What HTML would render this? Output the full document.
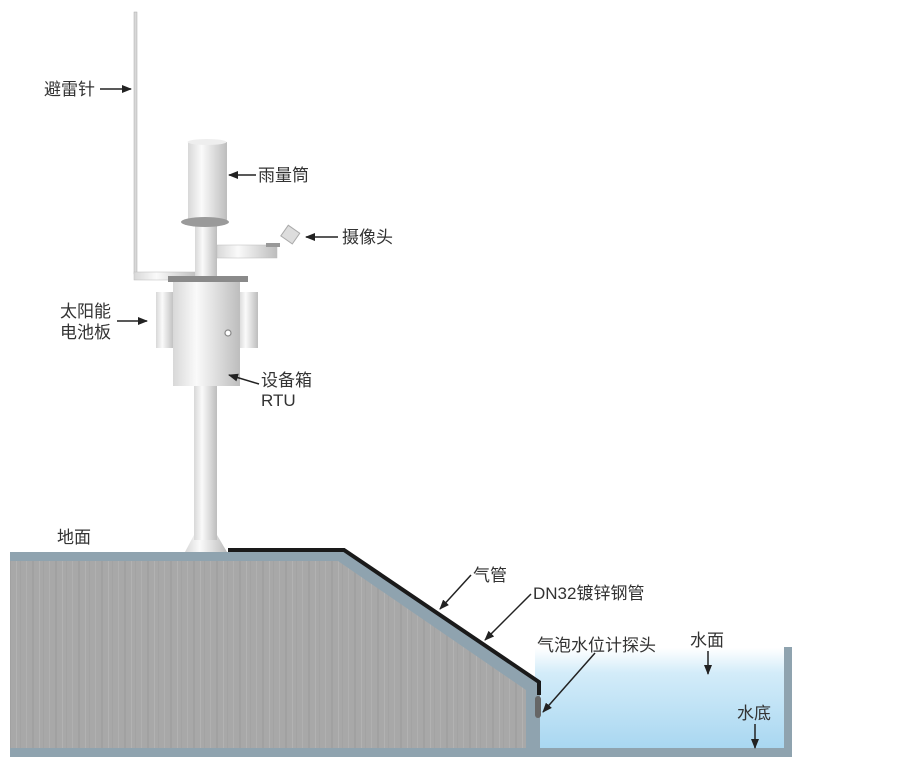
<!DOCTYPE html>
<html><head><meta charset="utf-8"><style>
html,body{margin:0;padding:0;background:#fff}
svg text{font-family:"Liberation Sans","Noto Sans CJK SC",sans-serif;font-size:17px;fill:#333}
</style></head><body>
<svg width="902" height="774" viewBox="0 0 902 774" xmlns="http://www.w3.org/2000/svg">
<defs>
<linearGradient id="cyl" x1="0" x2="1" y1="0" y2="0">
<stop offset="0" stop-color="#d8d8d8"/><stop offset="0.35" stop-color="#fafafa"/><stop offset="1" stop-color="#bdbdbd"/>
</linearGradient>
<linearGradient id="water" x1="0" x2="0" y1="0" y2="1">
<stop offset="0" stop-color="#ffffff"/><stop offset="0.25" stop-color="#d3ecf9"/><stop offset="1" stop-color="#a9d7f1"/>
</linearGradient>
<pattern id="conc" width="23" height="200" patternUnits="userSpaceOnUse">
<rect width="23" height="200" fill="#a8a8a8"/>
<rect x="3" width="1" height="200" fill="#b0b0b0"/>
<rect x="9" width="2" height="200" fill="#a1a1a1"/>
<rect x="16" width="1" height="200" fill="#b2b2b2"/>
<rect x="20" width="1" height="200" fill="#a3a3a3"/>
</pattern>
<marker id="ah" markerWidth="10" markerHeight="8" refX="9" refY="4" orient="auto" markerUnits="userSpaceOnUse">
<path d="M0,0 L10,4 L0,8 Z" fill="#222"/>
</marker>
</defs>
<rect x="535" y="648" width="249" height="100" fill="url(#water)"/>
<path d="M10,552 L345,552 L540,683 L540,748 L784,748 L784,647 L792,647 L792,757 L10,757 Z" fill="#8fa3af"/>
<path d="M10,561 L338,561 L526,690 L526,748 L10,748 Z" fill="url(#conc)"/>
<path d="M228,550 L344,550 L539,682 L539,695" fill="none" stroke="#1a1a1a" stroke-width="4"/>
<rect x="535" y="696" width="6" height="22" rx="3" fill="#666"/>
<rect x="134" y="12" width="3" height="262" fill="#d8d8d8" stroke="#aaa" stroke-width="0.5"/>
<rect x="134" y="272" width="64" height="8" fill="url(#cyl)" stroke="#bbb" stroke-width="0.5"/>
<path d="M185,552 L194,535 L217,535 L227,552 Z" fill="url(#cyl)"/>
<rect x="194" y="384" width="23" height="156" fill="url(#cyl)"/>
<rect x="195" y="225" width="22" height="54" fill="url(#cyl)"/>
<rect x="188" y="142" width="39" height="78" fill="url(#cyl)"/>
<ellipse cx="207" cy="142" rx="19.5" ry="3" fill="#eee"/>
<ellipse cx="205" cy="222" rx="24" ry="5" fill="#9a9a9a"/>
<rect x="217" y="245" width="60" height="13" fill="url(#cyl)" stroke="#bbb" stroke-width="0.5"/>
<rect x="266" y="243" width="14" height="4" fill="#999"/>
<rect x="283" y="228" width="14" height="13" fill="#ddd" stroke="#aaa" transform="rotate(35 290 235)"/>
<rect x="156" y="292" width="18" height="56" fill="url(#cyl)"/>
<rect x="239" y="292" width="19" height="56" fill="url(#cyl)"/>
<rect x="173" y="281" width="67" height="105" fill="url(#cyl)"/>
<rect x="168" y="276" width="80" height="6" fill="#8a8a8a"/>
<circle cx="228" cy="333" r="3" fill="#fff" stroke="#888" stroke-width="1.2"/>
<text x="44" y="95">避雷针</text>
<line x1="100" y1="89" x2="131" y2="89" stroke="#222" stroke-width="1.5" marker-end="url(#ah)"/>
<text x="258" y="181">雨量筒</text>
<line x1="256" y1="175" x2="229" y2="175" stroke="#222" stroke-width="1.5" marker-end="url(#ah)"/>
<text x="342" y="243">摄像头</text>
<line x1="338" y1="237" x2="306" y2="237" stroke="#222" stroke-width="1.5" marker-end="url(#ah)"/>
<text x="60" y="317">太阳能</text>
<text x="60" y="338">电池板</text>
<line x1="117" y1="321" x2="147" y2="321" stroke="#222" stroke-width="1.5" marker-end="url(#ah)"/>
<text x="261" y="386">设备箱</text>
<text x="261" y="406">RTU</text>
<line x1="259" y1="384" x2="229" y2="375" stroke="#222" stroke-width="1.5" marker-end="url(#ah)"/>
<text x="57" y="543">地面</text>
<text x="473" y="581">气管</text>
<line x1="471" y1="575" x2="440" y2="609" stroke="#222" stroke-width="1.5" marker-end="url(#ah)"/>
<text x="533" y="599">DN32镀锌钢管</text>
<line x1="531" y1="594" x2="485" y2="640" stroke="#222" stroke-width="1.5" marker-end="url(#ah)"/>
<text x="537" y="651">气泡水位计探头</text>
<line x1="595" y1="653" x2="543" y2="712" stroke="#222" stroke-width="1.5" marker-end="url(#ah)"/>
<text x="690" y="646">水面</text>
<line x1="708" y1="651" x2="708" y2="674" stroke="#222" stroke-width="1.5" marker-end="url(#ah)"/>
<text x="737" y="719">水底</text>
<line x1="755" y1="724" x2="755" y2="748" stroke="#222" stroke-width="1.5" marker-end="url(#ah)"/>
</svg>
</body></html>
